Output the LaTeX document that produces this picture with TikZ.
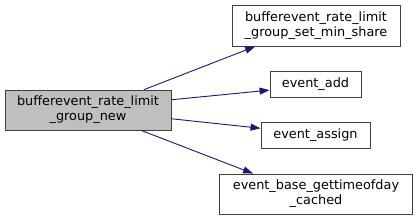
\documentclass[tikz,border=0pt]{standalone}
\usepackage{fontspec}
\setmainfont{DejaVu Sans}
\usetikzlibrary{arrows.meta,positioning}
\definecolor{edge}{HTML}{191970}
\definecolor{frame}{HTML}{404040}
\definecolor{shade}{HTML}{BFBFBF}

\begin{document}
\begin{tikzpicture}[x=1bp,y=-1bp,
  fn/.style={draw=frame,line width=0.9bp,align=center,inner sep=0pt,
    font=\fontsize{12.9}{15}\selectfont},
  call/.style={edge,line width=0.9bp,-{Triangle[length=10bp,width=7bp]}}]
  \useasboundingbox (0,0) rectangle (417,220);
  % the caller on the left, the four callees on the right
  \node[fn,fill=shade,minimum width=166bp,minimum height=40bp] (new) at (88,110)
    {bufferevent\_rate\_limit\\\_group\_new};
  \node[fn,minimum width=168bp,minimum height=41bp] (share) at (316,25.5)
    {bufferevent\_rate\_limit\\\_group\_set\_min\_share};
  \node[fn,minimum width=91bp,minimum height=26bp] (add) at (315.5,84.5) {event\_add};
  \node[fn,minimum width=109bp,minimum height=26bp] (assign) at (315.5,135) {event\_assign};
  \node[fn,minimum width=193bp,minimum height=40bp] (cached) at (316,194)
    {event\_base\_gettimeofday\\\_cached};
  \draw[call] (new.20.7) -- (share.199);
  \draw[call] (new.7) -- (add.187);
  \draw[call] (new.354) -- (assign.173);
  \draw[call] (new.339.3) -- (cached.162);
\end{tikzpicture}
\end{document}
